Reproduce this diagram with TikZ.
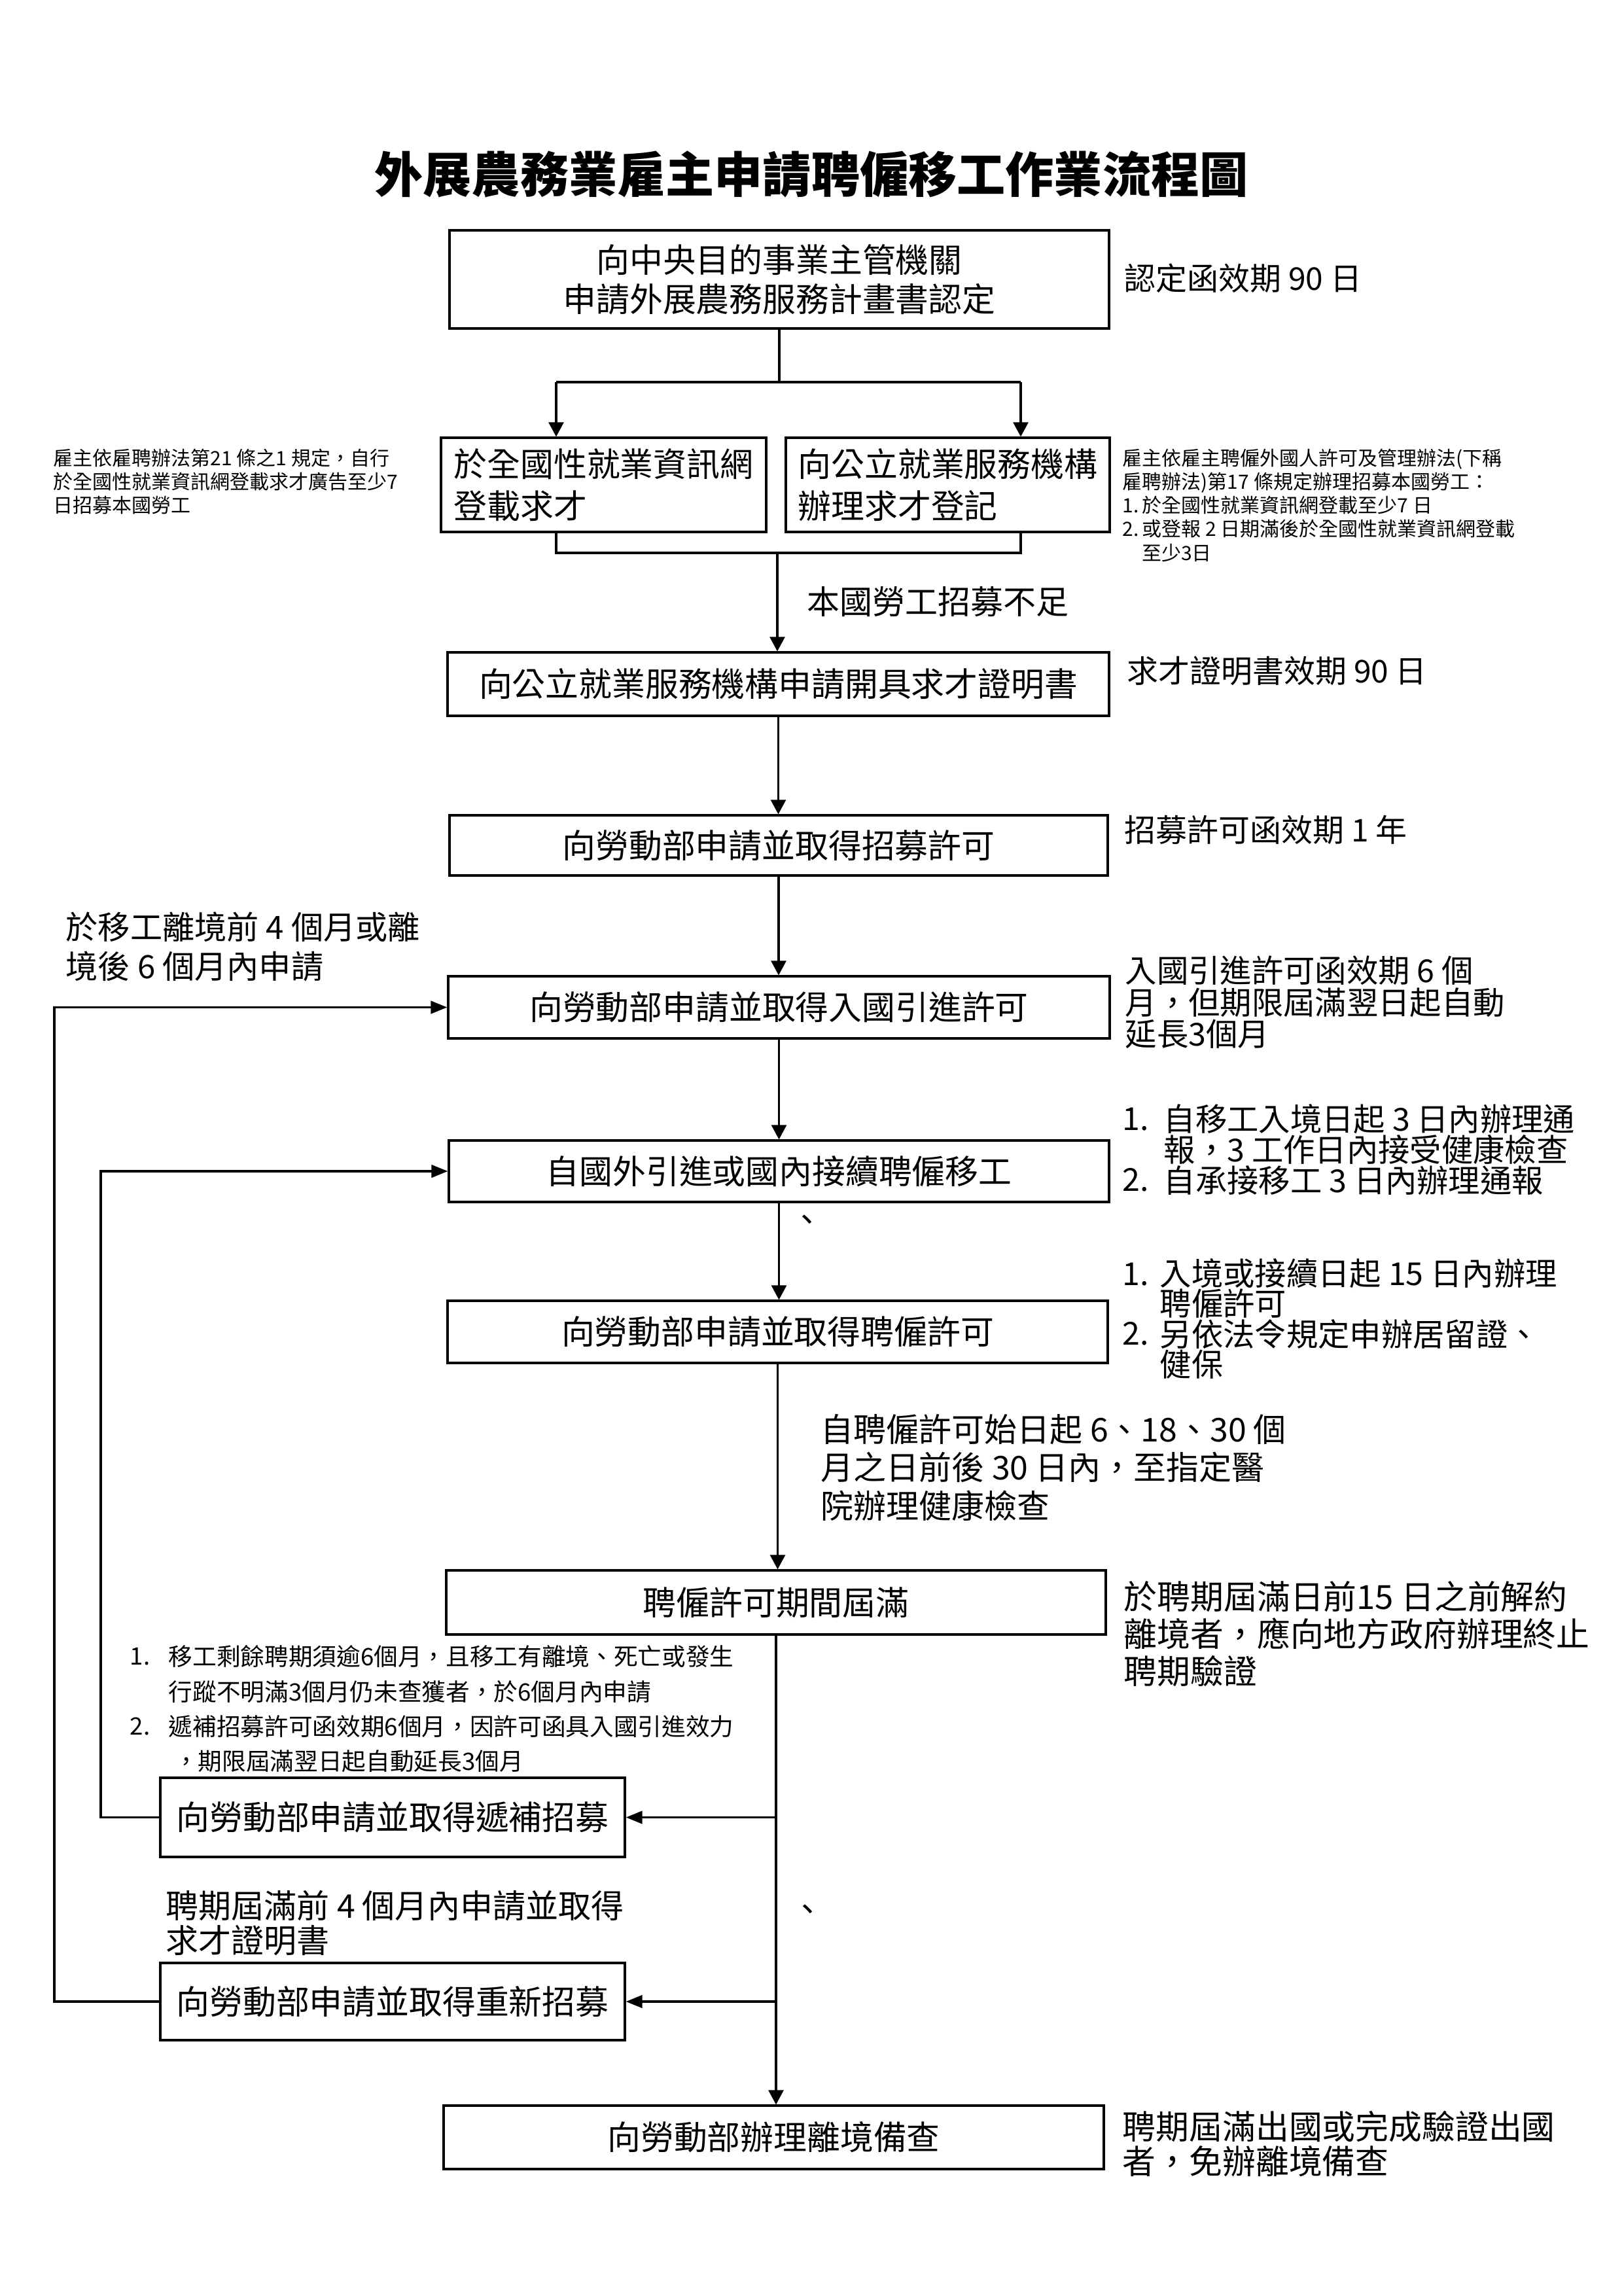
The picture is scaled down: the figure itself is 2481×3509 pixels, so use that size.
\documentclass[tikz,border=0pt]{standalone}
\usepackage{fontspec}
\setmainfont{Noto Sans CJK TC}
\usetikzlibrary{arrows.meta}
\newcommand\fz[2]{\fontsize{#1}{#2}\selectfont\lineskiplimit=-20pt\relax}
\begin{document}
\begin{tikzpicture}[x=0.24pt, y=-0.24pt,
  box/.style={draw, line width=0.75pt, inner sep=0pt, align=center, font=\fz{12.2}{14.4}},
  bx/.style 2 args={minimum width={#1*0.24pt}, minimum height={#2*0.24pt}},
  ln/.style={line width=0.75pt},
  arr/.style={ln, -{Triangle[length=5.3pt,width=5.5pt]}},
  harr/.style={line width=0.9pt, -{Triangle[length=6pt,width=4.6pt]}},
  note/.style={anchor=west, inner sep=0pt, align=left},
]
\useasboundingbox (0,0) rectangle (2481,3509);

% title
\node[inner sep=0pt, font=\fz{17.8}{20}\bfseries] (title) at (1240,266) {外展農務業雇主申請聘僱移工作業流程圖};

% boxes
\node[box,bx={1008}{150}] (b1) at (1191,427) {向中央目的事業主管機關\\申請外展農務服務計畫書認定};
\node[box,bx={497}{144},align=left,font=\fz{12.2}{15.4}] (b2) at (922.5,741) {於全國性就業資訊網\\登載求才};
\node[box,bx={495}{144},align=left,font=\fz{12.2}{15.4}] (b3) at (1448.5,741) {向公立就業服務機構\\辦理求才登記};
\node[box,bx={1011}{97}] (b4) at (1189.5,1045.5) {向公立就業服務機構申請開具求才證明書};
\node[box,bx={1006}{92}] (b5) at (1190,1292) {向勞動部申請並取得招募許可};
\node[box,bx={1011}{95}] (b6) at (1190.5,1539.5) {向勞動部申請並取得入國引進許可};
\node[box,bx={1009}{94}] (b7) at (1190.5,1790) {自國外引進或國內接續聘僱移工};
\node[box,bx={1009}{95}] (b8) at (1188.5,2035.5) {向勞動部申請並取得聘僱許可};
\node[box,bx={1008}{98}] (b9) at (1186,2449) {聘僱許可期間屆滿};
\node[box,bx={710}{121}] (b10) at (600,2777.5) {向勞動部申請並取得遞補招募};
\node[box,bx={710}{118}] (b11) at (600,3059) {向勞動部申請並取得重新招募};
\node[box,bx={1009}{97}] (b12) at (1182.5,3266.5) {向勞動部辦理離境備查};

% notes
\node[note,font=\fz{11.5}{13}] (n1) at (1718,425) {認定函效期 90 日};
\node[note,font=\fz{7.2}{8.6}] (nl2) at (81,736) {雇主依雇聘辦法第21 條之1 規定，自行\\於全國性就業資訊網登載求才廣告至少7\\日招募本國勞工};
\node[note,font=\fz{7.2}{8.7}] (nr3) at (1715,772) {雇主依雇主聘僱外國人許可及管理辦法(下稱\\雇聘辦法)第17 條規定辦理招募本國勞工：\\1.\,於全國性就業資訊網登載至少7 日\\2.\,或登報 2 日期滿後於全國性就業資訊網登載\\\hspace*{7pt}至少3日};
\node[note,font=\fz{12}{14}] (lab1) at (1233,920) {本國勞工招募不足};
\node[note,font=\fz{11.5}{13}] (n4) at (1722,1025) {求才證明書效期 90 日};
\node[note,font=\fz{11.5}{13}] (n5) at (1718,1268) {招募許可函效期 1 年};
\node[note,font=\fz{11.8}{14.2}] (nl6) at (100,1447) {於移工離境前 4 個月或離\\境後 6 個月內申請};
\node[note,font=\fz{11.6}{11.6}] (nr6) at (1719,1532) {入國引進許可函效期 6 個\\月，但期限屆滿翌日起自動\\延長3個月};
\node[note,font=\fz{11.6}{11.3}] (nr7a) at (1715,1711) {1.};
\node[note,font=\fz{11.6}{11.3}] (nr7b) at (1715,1803) {2.};
\node[note,font=\fz{11.6}{11.3}] (nr7) at (1778,1757) {自移工入境日起 3 日內辦理通\\報，3 工作日內接受健康檢查\\自承接移工 3 日內辦理通報};
\node[font=\fz{12}{14}, inner sep=0pt] (dot1) at (1233,1870) {、};
\node[note,font=\fz{11.6}{11.1}] (nr8a) at (1715,1948) {1.};
\node[note,font=\fz{11.6}{11.1}] (nr8b) at (1715,2038) {2.};
\node[note,font=\fz{11.6}{11.1}] (nr8) at (1772,2015.5) {入境或接續日起 15 日內辦理\\聘僱許可\\另依法令規定申辦居留證、\\健保};
\node[note,font=\fz{12}{14}] (lab2) at (1254,2243) {自聘僱許可始日起 6、18、30 個\\月之日前後 30 日內，至指定醫\\院辦理健康檢查};
\node[note,font=\fz{12.2}{13.7}] (nr9) at (1717,2497) {於聘期屆滿日前15 日之前解約\\離境者，應向地方政府辦理終止\\聘期驗證};
\node[note,font=\fz{8.8}{12.8}] (nl10a) at (198,2532) {1.};
\node[note,font=\fz{8.8}{12.8}] (nl10b) at (198,2638) {2.};
\node[note,font=\fz{8.8}{12.8}] (nl10) at (257,2612) {移工剩餘聘期須逾6個月，且移工有離境、死亡或發生\\行蹤不明滿3個月仍未查獲者，於6個月內申請\\遞補招募許可函效期6個月，因許可函具入國引進效力\\\hspace*{2pt}，期限屆滿翌日起自動延長3個月};
\node[note,font=\fz{12}{12.5}] (nl11) at (253,2939) {聘期屆滿前 4 個月內申請並取得\\求才證明書};
\node[font=\fz{12}{14}, inner sep=0pt] (dot2) at (1234,2924) {、};
\node[note,font=\fz{12.2}{12.7}] (nr12) at (1715,3276.5) {聘期屆滿出國或完成驗證出國\\者，免辦離境備查};

% connectors
\coordinate (sL) at (850,584);
\coordinate (sR) at (1560,584);
\coordinate (mL) at (850,845);
\coordinate (mR) at (1560,845);
\coordinate (mC) at (1188,845);
\coordinate (xo) at (83,0);
\coordinate (xi) at (154,0);

\draw[ln] (b1.south) -- (b1.south |- sL);
\draw[ln] (sL) -- (sR);
\draw[arr] (sL) -- (sL |- b2.north);
\draw[arr] (sR) -- (sR |- b3.north);
\draw[ln] (mL |- b2.south) -- (mL) -- (mR) -- (mR |- b3.south);
\draw[arr] (mC) -- (mC |- b4.north);
\draw[arr] (b4.south) -- (b4.south |- b5.north);
\draw[arr] (b5.south) -- (b5.south |- b6.north);
\draw[arr] (b6.south) -- (b6.south |- b7.north);
\draw[arr] (b7.south) -- (b7.south |- b8.north);
\draw[arr] (b8.south) -- (b8.south |- b9.north);
\draw[arr] (b9.south) -- (b9.south |- b12.north);
\draw[harr] (b9.south |- b10.east) -- (b10.east);
\draw[harr] (b9.south |- b11.east) -- (b11.east);
\draw[harr] (b11.west) -- (b11.west -| xo) -- (b6.west -| xo) -- (b6.west);
\draw[harr] (b10.west) -- (b10.west -| xi) -- (b7.west -| xi) -- (b7.west);
\end{tikzpicture}
\end{document}
